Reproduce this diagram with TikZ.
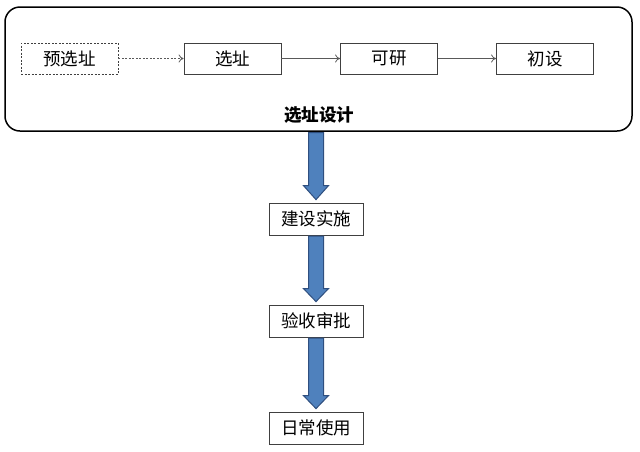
\documentclass[tikz,border=0pt]{standalone}
\usepackage{fontspec}
\newfontfamily\cjk{Noto Sans CJK SC}
\usetikzlibrary{arrows.meta,calc}
\definecolor{arrowfill}{HTML}{4F81BD}
\definecolor{arrowline}{HTML}{2F4F7F}
\begin{document}
\begin{tikzpicture}[x=1pt,y=-1pt,
  box/.style={draw=black!75,line width=0.8pt,minimum width=97pt,minimum height=31pt,inner sep=0pt,font=\cjk\fontsize{17.5}{17.5}\selectfont},
  flow/.style={draw=black!65,line width=0.8pt,-{To[length=5pt,width=8pt]}},
  blockarrow/.style={fill=arrowfill,draw=arrowline,line width=1pt,line join=miter}]
\useasboundingbox (0,0) rectangle (640,451);
\node[draw=black,line width=1.5pt,rounded corners=15pt,minimum width=627pt,minimum height=124pt,inner sep=0pt] (big) at (318.5,69) {};
\node[box,dashed,dash pattern=on 2pt off 1.5pt] (pre) at (69.5,58.5) {预选址};
\node[box] (sel) at (232.5,58.5) {选址};
\node[box] (res) at (389,58.5) {可研};
\node[box] (ini) at (545,58.5) {初设};
\node[font=\cjk\bfseries\fontsize{17.5}{17.5}\selectfont] (lab) at (319,115) {选址设计};
\draw[flow,dashed,dash pattern=on 2pt off 1.5pt] (pre) -- (sel);
\draw[flow] (sel) -- (res);
\draw[flow] (res) -- (ini);
\node[box,minimum width=94pt,minimum height=32pt] (build) at (316,219) {建设实施};
\node[box,minimum width=94pt,minimum height=32pt] (check) at (316,321) {验收审批};
\node[box,minimum width=94pt,minimum height=32pt] (use) at (316,428) {日常使用};
% block arrows
\foreach \a/\b/\h in {big/build/17, build/check/16, check/use/16}{
  \draw[blockarrow] ($(\a.south -| \b.north)+(-7.5,0.8)$) -- ($(\b.north)+(-7.5,-\h)$) -- ($(\b.north)+(-12.5,-\h)$)
    -- ($(\b.north)+(0,-3)$) -- ($(\b.north)+(12.5,-\h)$) -- ($(\b.north)+(7.5,-\h)$)
    -- ($(\a.south -| \b.north)+(7.5,0.8)$) -- cycle;
}
\end{tikzpicture}
\end{document}
